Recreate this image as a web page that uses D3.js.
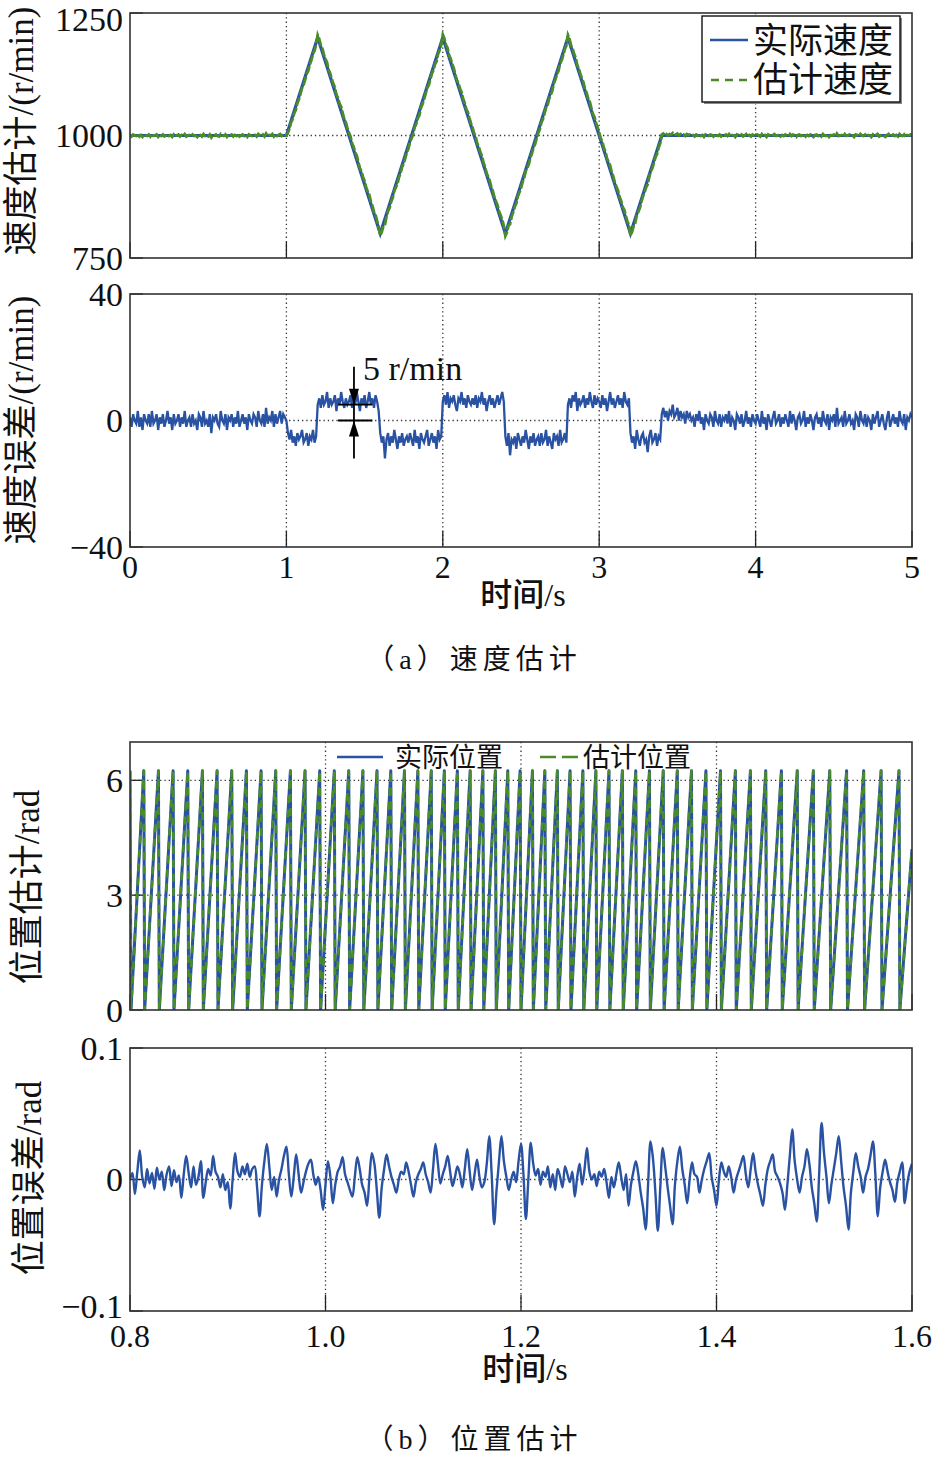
<!DOCTYPE html>
<html><head><meta charset="utf-8">
<script src="https://cdn.jsdelivr.net/npm/d3@7"></script>
<style>body{margin:0;background:#fff}svg{display:block}</style>
</head><body><svg id="c" width="935" height="1457"></svg>
<script>
// ---------------- DATA ----------------
const speedTimes  = [0, 1, 1.2, 1.6, 2.0, 2.4, 2.8, 3.2, 3.4, 5];
const speedActual = [1000, 1000, 1200, 800, 1200, 800, 1200, 800, 1000, 1000];
const speedYTicks = [750, 1000, 1250];
const errYTicks   = [-40, 0, 40];
const timeTicksA  = [0, 1, 2, 3, 4, 5];
const errStep = 0.01; // s between speed-error samples
const speedErr = [
 1,-2,2,0,-1,3,-2,1,-3,2,0,-1,2,-2,3,-1,0,2,-3,1,
 -1,2,-2,0,3,-1,1,-3,2,-1,0,2,-2,1,-1,3,-2,0,1,-2,
 2,-1,0,-3,2,1,-2,3,-1,0,-2,2,-4,1,0,2,-1,-2,3,0,
 -1,2,-3,1,0,2,-2,1,-1,3,-2,0,2,-1,1,-3,2,0,-1,2,
 1,-2,3,0,-1,2,-2,4,-1,1,0,3,-2,2,-1,1,3,-1,2,1,
 0,-4,-6,-3,-7,-5,-8,-4,-6,-5,-3,-7,-6,-4,-8,-5,-6,-3,-7,-5,
 5,7,4,8,5,6,9,4,7,5,6,8,3,7,5,9,6,4,7,5,
 6,8,4,7,5,9,6,3,7,5,8,4,6,9,5,7,4,8,6,3,
 -4,-7,-5,-12,-6,-4,-8,-5,-7,-3,-6,-9,-5,-7,-4,-8,-6,-5,-7,-4,
 -6,-8,-3,-7,-5,-9,-4,-6,-7,-5,-3,-8,-6,-4,-7,-5,-9,-3,-6,-5,
 6,8,5,9,4,7,6,8,5,3,7,6,9,5,7,4,8,6,5,7,
 5,8,4,7,6,9,5,7,3,6,8,5,7,4,6,8,5,7,9,6,
 -5,-8,-4,-11,-6,-7,-5,-9,-4,-6,-8,-5,-7,-3,-6,-9,-5,-7,-4,-8,
 -6,-5,-8,-4,-7,-6,-3,-8,-5,-7,-9,-4,-6,-5,-8,-3,-7,-6,-4,-7,
 5,7,4,8,6,9,3,7,5,6,8,4,7,5,9,6,4,8,5,7,
 6,4,8,5,7,3,6,9,5,7,4,6,8,5,7,4,9,6,5,7,
 -4,-7,-5,-9,-3,-6,-8,-5,-4,-7,-6,-10,-5,-3,-7,-6,-4,-8,-5,-6,
 2,4,1,3,0,3,2,5,1,2,4,0,3,1,2,-1,3,1,2,0,
 1,-2,2,0,3,-1,1,-3,2,0,-1,2,1,-2,3,0,-1,2,-2,1,
 0,2,-1,3,-2,1,0,-3,2,1,-1,2,-2,0,3,-1,1,-2,2,0,
 -1,2,0,-2,3,-1,1,-3,2,0,-2,1,3,-1,0,2,-2,1,-1,2,
 0,-2,3,-1,2,0,-3,1,2,-1,0,3,-2,1,-1,2,0,-3,1,2,
 -1,1,-2,3,0,-1,2,-3,1,0,2,-2,4,-1,0,1,-2,3,-1,0,
 2,-1,0,-3,2,1,-2,3,0,-1,2,-2,1,0,-3,2,-1,1,3,-2,
 0,2,-1,-3,1,3,-2,0,2,-1,1,-2,3,0,-1,2,-3,1,0,2,
 1];

// rotor position (electrical angle) wrap instants, s
const posResetTimes = [0.801,0.815,0.830,0.845,0.860,0.875,0.890,0.905,0.920,0.935,0.950,0.965,0.980,0.995,
 1.0099,1.0247,1.0392,1.0536,1.0677,1.0817,1.0954,1.1091,1.1225,1.1358,1.1489,1.1619,1.1747,1.1874,1.2000,
 1.2126,1.2253,1.2381,1.2511,1.2642,1.2775,1.2909,1.3046,1.3183,1.3323,1.3464,1.3608,1.3753,1.3901,1.4050,
 1.4202,1.4356,1.4513,1.4673,1.4835,1.5000,1.5168,1.5340,1.5515,1.5693,1.5876];
const posPeak = 6.25;
const posEndValue = 4.2;
const posYTicks = [0, 3, 6];
const timeTicksB  = [0.8, 1.0, 1.2, 1.4, 1.6];
const timeLabelsB = ["0.8", "1.0", "1.2", "1.4", "1.6"];
const posErrStart = 0.8, posErrStep = 0.0025;
const posErrMrad = [
 0,5,-11,6,22,2,-6,8,-3,5,-7,9,0,6,-8,4,10,-5,7,-2,
 3,-14,4,18,5,-6,10,-4,2,14,-14,-2,8,3,18,6,2,-6,4,-8,
 -2,-22,0,20,6,2,10,4,12,2,8,10,-6,-28,-4,14,27,10,-8,2,
 -13,0,8,18,25,4,-13,2,19,4,-10,-2,6,12,15,4,-4,2,-8,-23,
 -4,14,2,-18,-4,6,10,17,4,-2,-8,-13,2,17,8,-4,-10,-20,2,20,
 12,-8,-29,-6,8,19,10,2,-4,-10,0,6,4,13,6,-4,-13,-2,4,8,
 13,4,-2,-10,8,27,12,-3,4,10,18,6,-5,2,10,4,-6,8,23,6,
 -8,4,15,2,-6,-2,12,33,4,-34,-8,14,33,14,2,-8,0,6,-2,14,
 27,4,-30,0,28,12,3,8,-4,6,2,10,-6,4,-8,8,2,-6,10,4,
 -2,6,-13,2,12,-4,8,24,6,0,4,-5,6,2,8,-2,-14,2,-6,4,
 13,2,-8,4,-20,-4,6,14,4,-10,-22,-38,-4,29,16,-10,-39,-6,24,10,
 -6,-20,-34,-4,14,25,8,-4,-18,0,13,4,2,-10,0,8,14,20,2,-8,
 -20,0,13,6,2,10,2,-10,0,6,12,18,4,-6,8,20,6,-4,-12,-20,
 -4,8,14,19,6,2,-3,-10,-23,-4,18,38,14,0,-10,2,10,23,12,-6,
 -18,-32,4,43,20,2,-18,-4,8,20,33,14,-6,-20,-38,-10,6,20,10,2,
 -10,2,8,18,29,4,-28,-6,6,15,6,-2,-8,-17,-2,6,13,-18,-4,6,12];
const posErrYTicks  = [-100, 0, 100];
const posErrYLabels = ["\u22120.1", "0", "0.1"];

// ---------------- LAYOUT ----------------
const BLUE = "#2a52a3", GREEN = "#4a8c2a", INK = "#222";
const FONT = "'Liberation Serif','Noto Sans CJK SC',serif";
const svg = d3.select("#c").style("font-family", FONT);
svg.append("rect").attr("width",935).attr("height",1457).attr("fill","#fff");

const xA  = d3.scaleLinear().domain([0,5]).range([130,912]);
const yA1 = d3.scaleLinear().domain([750,1250]).range([258,13]);
const yA2 = d3.scaleLinear().domain([-40,40]).range([547,294]);
const xB  = d3.scaleLinear().domain([0.8,1.6]).range([130,912]);
const yB1 = d3.scaleLinear().domain([0,7]).range([1010,742]);
const yB2 = d3.scaleLinear().domain([-100,100]).range([1311,1048]);

let clipId = 0;
function panel(x, y, xGrid, yGrid, xTicks, yTicks, yLabels, xLabels, xLabelY, yLabelShift){
  const [xl,xr] = x.range(), [yb,yt] = y.range();
  const g = svg.append("g");
  const id = "clip"+(clipId++);
  g.append("clipPath").attr("id",id).append("rect")
    .attr("x",xl).attr("y",yt).attr("width",xr-xl).attr("height",yb-yt);
  g.selectAll(null).data(xGrid).join("line")
    .attr("x1",d=>x(d)).attr("x2",d=>x(d)).attr("y1",yt).attr("y2",yb)
    .attr("stroke","#333").attr("stroke-width",1.3).attr("stroke-dasharray","1.3,3");
  g.selectAll(null).data(yGrid).join("line")
    .attr("y1",d=>y(d)).attr("y2",d=>y(d)).attr("x1",xl).attr("x2",xr)
    .attr("stroke","#333").attr("stroke-width",1.3).attr("stroke-dasharray","1.3,3");
  g.selectAll(null).data(xTicks).join("line")
    .attr("x1",d=>x(d)).attr("x2",d=>x(d)).attr("y1",yb).attr("y2",yb-16)
    .attr("stroke",INK).attr("stroke-width",1.3);
  g.selectAll(null).data(yTicks).join("line")
    .attr("y1",d=>y(d)).attr("y2",d=>y(d)).attr("x1",xl).attr("x2",xl+13)
    .attr("stroke",INK).attr("stroke-width",1.3);
  g.selectAll(null).data(yTicks).join("text")
    .attr("x",123).attr("y",(d,i)=>Math.max(y(d), 19) + ((yLabelShift||[])[i]||0)).attr("dy","0.34em")
    .attr("text-anchor","end").style("font-size","34px").attr("fill","#111")
    .text((d,i)=>yLabels[i]);
  if (xLabels){
    g.selectAll(null).data(xTicks).join("text")
      .attr("x",d=>x(d)).attr("y",xLabelY)
      .attr("text-anchor","middle").style("font-size","32px").attr("fill","#111")
      .text((d,i)=>xLabels[i]);
  }
  const data = g.append("g").attr("clip-path",`url(#${id})`);
  return {g, data, box: ()=> g.append("rect").attr("x",xl).attr("y",yt)
      .attr("width",xr-xl).attr("height",yb-yt).attr("fill","none")
      .attr("stroke","#333").attr("stroke-width",1.6)};
}
function yTitle(text, x, cy){
  svg.append("text").attr("transform",`translate(${x},${cy}) rotate(-90)`)
    .attr("text-anchor","middle").style("font-size","35px").attr("fill","#111").text(text);
}
function xTitle(text, cx, y){
  svg.append("text").attr("x",cx).attr("y",y).attr("text-anchor","middle")
    .style("font-size","32px").style("font-weight","500").attr("fill","#111").text(text);
}
function caption(text, cx, y){
  svg.append("text").attr("x",cx).attr("y",y).attr("text-anchor","middle")
    .style("font-size","28px").style("letter-spacing","5px").attr("fill","#111").text(text);
}

// ---------- Panel A1: speed ----------
const speedAt = d3.scaleLinear().domain(speedTimes).range(speedActual);
const pA1 = panel(xA, yA1, [1,2,3,4], [1000], timeTicksA, speedYTicks, speedYTicks.map(String), null);
pA1.data.append("path").datum(speedTimes.map((t,i)=>[t,speedActual[i]]))
  .attr("d", d3.line().x(d=>xA(d[0])).y(d=>yA1(d[1])))
  .attr("fill","none").attr("stroke",BLUE).attr("stroke-width",3.2);
pA1.data.append("path").datum(speedErr.map((e,i)=>[i*errStep, speedAt(i*errStep)+e]))
  .attr("d", d3.line().x(d=>xA(d[0])).y(d=>yA1(d[1])))
  .attr("fill","none").attr("stroke",GREEN).attr("stroke-width",2.8)
  .attr("stroke-dasharray","9,2");
pA1.box();
const lg = svg.append("g");
lg.append("rect").attr("x",704).attr("y",18).attr("width",198).attr("height",86).attr("fill","#888");
lg.append("rect").attr("x",702).attr("y",16).attr("width",198).attr("height",86)
  .attr("fill","#fff").attr("stroke","#111").attr("stroke-width",1.4);
lg.append("line").attr("x1",710).attr("x2",748).attr("y1",40).attr("y2",40)
  .attr("stroke",BLUE).attr("stroke-width",2.6);
lg.append("line").attr("x1",711).attr("x2",749).attr("y1",80).attr("y2",80)
  .attr("stroke",GREEN).attr("stroke-width",2.6).attr("stroke-dasharray","8,6");
lg.append("text").attr("x",753).attr("y",53).style("font-size","35px").attr("fill","#111").text("实际速度");
lg.append("text").attr("x",753).attr("y",92).style("font-size","35px").attr("fill","#111").text("估计速度");
yTitle("速度估计/(r/min)", 33, 131);

// ---------- Panel A2: speed error ----------
const pA2 = panel(xA, yA2, [1,2,3,4], [0], timeTicksA, errYTicks,
  errYTicks.map(d=> d<0 ? "\u2212"+(-d) : String(d)), timeTicksA.map(String), 578);
pA2.data.append("path").datum(speedErr.map((e,i)=>[i*errStep, e]))
  .attr("d", d3.line().x(d=>xA(d[0])).y(d=>yA2(d[1])))
  .attr("fill","none").attr("stroke",BLUE).attr("stroke-width",2.3);
pA2.box();
const annT = 1.432, annTop = 17, annBot = -12, annLevel = 5, annSpan = [1.33, 1.55];
const ann = svg.append("g").attr("stroke","#000").attr("stroke-width",1.8);
ann.append("line").attr("x1",xA(annT)).attr("x2",xA(annT)).attr("y1",yA2(annTop)).attr("y2",yA2(annBot));
[annLevel, 0].forEach(v=> ann.append("line").attr("x1",xA(annSpan[0])).attr("x2",xA(annSpan[1]))
  .attr("y1",yA2(v)).attr("y2",yA2(v)));
const ax = xA(annT);
ann.append("path").attr("stroke","none").attr("fill","#000")
  .attr("d",`M${ax},${yA2(annLevel)} L${ax-5},${yA2(annLevel)-16} L${ax+5},${yA2(annLevel)-16}Z`);
ann.append("path").attr("stroke","none").attr("fill","#000")
  .attr("d",`M${ax},${yA2(0)} L${ax-5},${yA2(0)+16} L${ax+5},${yA2(0)+16}Z`);
svg.append("text").attr("x",xA(1.49)).attr("y",yA2(12.8)).style("font-size","34px")
  .attr("fill","#111").text("5 r/min");
yTitle("速度误差/(r/min)", 33, 420);
xTitle("时间/s", 523, 606);
caption("（a）速度估计", 474, 669);

// ---------- Panel B1: position ----------
const pB1 = panel(xB, yB1, [1.0,1.2,1.4], [3,6], timeTicksB, posYTicks, posYTicks.map(String), null);
const d = 0.0009;
const posPts = [[0.8, posPeak]];
posResetTimes.forEach((t,i)=>{ if(i>0) posPts.push([t-d, posPeak]); posPts.push([t,0]); });
posPts.push([1.6, posEndValue]);
const posLine = d3.line().x(p=>xB(p[0])).y(p=>yB1(p[1]));
pB1.data.append("path").datum(posPts).attr("d",posLine)
  .attr("fill","none").attr("stroke",BLUE).attr("stroke-width",3).attr("stroke-linejoin","round");
pB1.data.append("path").datum(posPts).attr("d",posLine)
  .attr("fill","none").attr("stroke",GREEN).attr("stroke-width",2.6)
  .attr("stroke-dasharray","8,6").attr("stroke-linejoin","round");
pB1.box();
const lg2 = svg.append("g");
lg2.append("line").attr("x1",337).attr("x2",383).attr("y1",757).attr("y2",757)
  .attr("stroke",BLUE).attr("stroke-width",2.6);
lg2.append("text").attr("x",395).attr("y",767).style("font-size","27px").attr("fill","#111").text("实际位置");
lg2.append("line").attr("x1",540).attr("x2",578).attr("y1",757).attr("y2",757)
  .attr("stroke",GREEN).attr("stroke-width",2.6).attr("stroke-dasharray","16,6");
lg2.append("text").attr("x",583).attr("y",767).style("font-size","27px").attr("fill","#111").text("估计位置");
yTitle("位置估计/rad", 39, 887);

// ---------- Panel B2: position error ----------
const pB2 = panel(xB, yB2, [1.0,1.2,1.4], [0], timeTicksB, posErrYTicks, posErrYLabels, timeLabelsB, 1347, [-5,0,0]);
pB2.data.append("path").datum(posErrMrad.map((v,i)=>[posErrStart+i*posErrStep, v]))
  .attr("d", d3.line().curve(d3.curveCatmullRom).x(p=>xB(p[0])).y(p=>yB2(p[1])))
  .attr("fill","none").attr("stroke",BLUE).attr("stroke-width",2.4);
pB2.box();
yTitle("位置误差/rad", 41, 1178);
xTitle("时间/s", 525, 1380);
caption("（b）位置估计", 474, 1449);
</script></body></html>
